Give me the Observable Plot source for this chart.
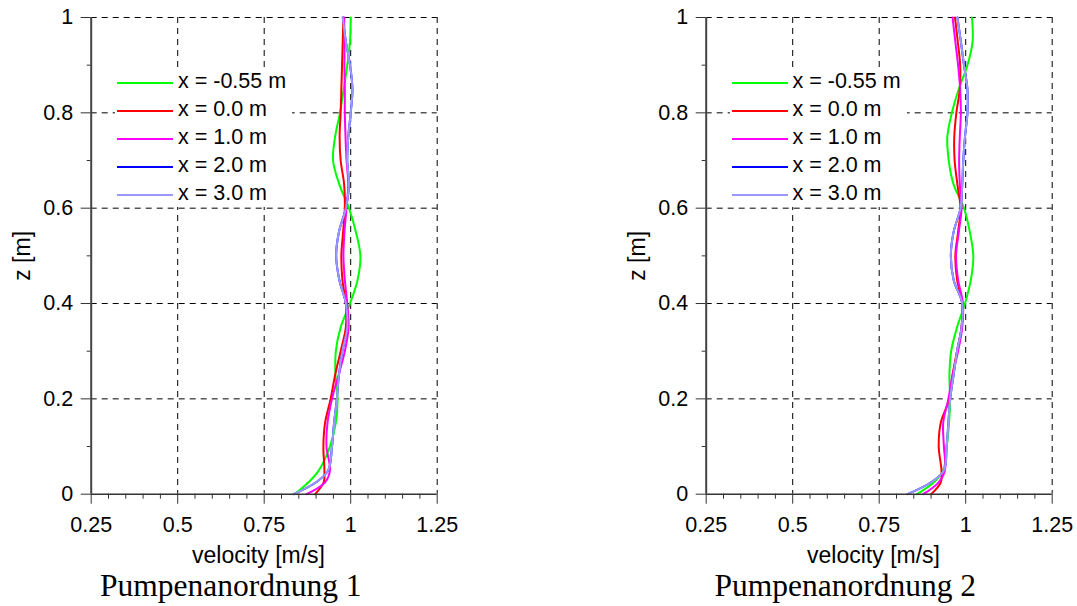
<!DOCTYPE html>
<html><head><meta charset="utf-8">
<script src="https://cdn.jsdelivr.net/npm/d3@7"></script>
<script src="https://cdn.jsdelivr.net/npm/@observablehq/plot@0.6"></script>
<style>
body{margin:0;background:#fff;}
#root{position:relative;width:1077px;height:606px;overflow:hidden;background:#fff;}
.panel{position:absolute;top:0;width:470px;height:606px;}
.panel svg{display:block;}
.caption{font-family:"Liberation Serif","Times New Roman",serif;font-size:31.5px;line-height:31px;padding-left:100px;white-space:nowrap;color:#000;}
.legend{position:absolute;left:115px;top:67px;width:177px;height:140px;background:#fff;font-family:"Liberation Sans",Arial,sans-serif;font-size:21.5px;color:#000;}
.legend .ln{position:absolute;left:2px;width:56px;height:2px;}
.legend .tx{position:absolute;left:63px;line-height:28px;white-space:nowrap;}
</style></head><body><div id="root"></div>
<script>
// ---- data ----
const zLevels = [0,0.025,0.05,0.1,0.15,0.2,0.25,0.3,0.35,0.4,0.45,0.5,0.55,0.6,0.65,0.7,0.75,0.8,0.85,0.9,0.95,1];
const seriesNames = ["x = -0.55 m","x = 0.0 m","x = 1.0 m","x = 2.0 m","x = 3.0 m"];
const seriesColors = ["#00ff00","#ff0000","#ff00ff","#0000ff","#9999ff"];

// Pumpenanordnung 1
const p1Green   = [0.838,0.878,0.908,0.940,0.957,0.962,0.956,0.957,0.971,0.998,1.020,1.028,1.015,0.995,0.967,0.949,0.955,0.969,0.980,0.990,0.998,1.000];
const p1Red     = [0.897,0.922,0.924,0.921,0.926,0.942,0.955,0.971,0.986,0.986,0.976,0.973,0.978,0.983,0.981,0.971,0.968,0.971,0.973,0.975,0.977,0.979];
const p1Magenta = [0.872,0.926,0.940,0.930,0.933,0.946,0.965,0.983,0.994,0.990,0.983,0.979,0.982,0.988,0.993,0.988,0.985,0.983,0.983,0.982,0.982,0.981];
const p1Blue    = [0.835,0.900,0.935,0.946,0.952,0.960,0.966,0.976,0.990,0.986,0.967,0.958,0.966,0.986,0.995,0.990,0.993,1.000,1.005,0.998,0.986,0.977];
const p1Lav     = [0.835,0.900,0.935,0.946,0.952,0.960,0.966,0.976,0.990,0.986,0.967,0.958,0.966,0.986,0.995,0.990,0.993,1.000,1.005,0.998,0.986,0.977];

// Pumpenanordnung 2
const p2Green   = [0.859,0.908,0.935,0.945,0.952,0.955,0.953,0.958,0.975,0.998,1.015,1.022,1.012,0.995,0.965,0.951,0.947,0.960,0.980,1.005,1.020,1.018];
const p2Red     = [0.900,0.928,0.930,0.922,0.928,0.953,0.962,0.975,0.988,0.990,0.975,0.970,0.978,0.985,0.976,0.968,0.967,0.973,0.983,0.984,0.977,0.969];
const p2Magenta = [0.877,0.922,0.940,0.937,0.935,0.950,0.962,0.978,0.990,0.992,0.978,0.972,0.980,0.988,0.983,0.981,0.983,0.986,0.984,0.978,0.970,0.962];
const p2Blue    = [0.832,0.900,0.937,0.945,0.950,0.955,0.965,0.975,0.988,0.990,0.965,0.957,0.965,0.985,0.990,0.993,0.998,1.005,1.005,0.995,0.986,0.976];
const p2Lav     = [0.832,0.900,0.937,0.945,0.950,0.955,0.965,0.975,0.988,0.990,0.965,0.957,0.965,0.985,0.990,0.993,0.998,1.005,1.005,0.995,0.986,0.976];

const xMajor = [0.25,0.5,0.75,1,1.25];
const xMajorLabels = ["0.25","0.5","0.75","1","1.25"];
const xMinor = [0.3,0.35,0.4,0.45,0.55,0.6,0.65,0.7,0.8,0.85,0.9,0.95,1.05,1.1,1.15,1.2];
const yMajor = [0,0.2,0.4,0.6,0.8,1];
const yMajorLabels = ["0","0.2","0.4","0.6","0.8","1"];
const yMinor = [0.1,0.3,0.5,0.7,0.9];
const xGrid = [0.5,0.75,1,1.25];
const yGrid = [0.2,0.4,0.6,0.8,1];
const xTitle = "velocity [m/s]";
const yTitle = "z [m]";
const captions = ["Pumpenanordnung 1","Pumpenanordnung 2"];

// ---- drawing ----
function rowsFor(seriesList){
  // draw order: blue first (hidden beneath), then others in legend order
  const order = [3,0,1,2,4];
  const rows = [];
  for (const i of order) zLevels.forEach((z,k)=>rows.push({s:seriesNames[i], z, v:seriesList[i][k]}));
  return rows;
}

function panel(left, seriesList, caption){
  const div = document.createElement("div");
  div.className = "panel";
  div.style.left = left + "px";
  const W = 470, H = 570;
  const svg = Plot.plot({
    width: W, height: H,
    marginLeft: 90.7, marginRight: W - 436.7, marginTop: 17, marginBottom: H - 493.7,
    x: {domain: [0.25,1.25]},
    y: {domain: [0,1]},
    color: {domain: seriesNames, range: seriesColors},
    style: {fontFamily: "'Liberation Sans', Arial, sans-serif", fontSize: "21.5px", color: "#000", background: "#fff", overflow: "visible"},
    marks: [
      Plot.ruleX(xGrid, {stroke: "#000", strokeDasharray: "6,5", strokeWidth: 1}),
      Plot.ruleY(yGrid, {stroke: "#000", strokeDasharray: "6,5", strokeWidth: 1}),
      Plot.line(rowsFor(seriesList), {x: "v", y: "z", stroke: "s", z: "s", curve: "catmull-rom", strokeWidth: 2}),
      Plot.axisX(xMinor, {tickSize: 5, tickFormat: () => "", label: null, stroke: "#333"}),
      Plot.axisX(xMajor, {tickSize: 10, tickPadding: 13, label: null, stroke: "#333", tickFormat: d => xMajorLabels[xMajor.indexOf(d)]}),
      Plot.axisY(yMinor, {tickSize: 4, tickFormat: () => "", label: null, stroke: "#333"}),
      Plot.axisY(yMajor, {tickSize: 10, tickPadding: 8, label: null, stroke: "#333", tickFormat: d => yMajorLabels[yMajor.indexOf(d)]}),
      Plot.ruleX([0.25], {stroke: "#444", strokeWidth: 2}),
      Plot.ruleY([0], {stroke: "#333", strokeWidth: 1.5}),
      Plot.text([xTitle], {frameAnchor: "bottom", lineAnchor: "middle", textAnchor: "middle", dx: -5.7, dy: 61, fontSize: 23}),
      Plot.text([yTitle], {frameAnchor: "left", lineAnchor: "middle", textAnchor: "middle", rotate: -90, dx: -68.5, fontSize: 23})
    ]
  });
  div.appendChild(svg);
  const cap = document.createElement("div");
  cap.className = "caption";
  cap.textContent = caption;
  div.appendChild(cap);

  // legend box
  const lg = document.createElement("div");
  lg.className = "legend";
  seriesNames.forEach((name,i)=>{
    const cy = 15.7 + i*28;
    const ln = document.createElement("div");
    ln.className = "ln";
    ln.style.top = (cy - 1) + "px";
    ln.style.background = seriesColors[i];
    lg.appendChild(ln);
    const tx = document.createElement("div");
    tx.className = "tx";
    tx.style.top = (cy - 16) + "px";
    tx.textContent = name;
    lg.appendChild(tx);
  });
  div.appendChild(lg);
  return div;
}

const root = document.getElementById("root");
root.appendChild(panel(0, [p1Green,p1Red,p1Magenta,p1Blue,p1Lav], captions[0]));
root.appendChild(panel(614.5, [p2Green,p2Red,p2Magenta,p2Blue,p2Lav], captions[1]));
</script>
</body></html>
